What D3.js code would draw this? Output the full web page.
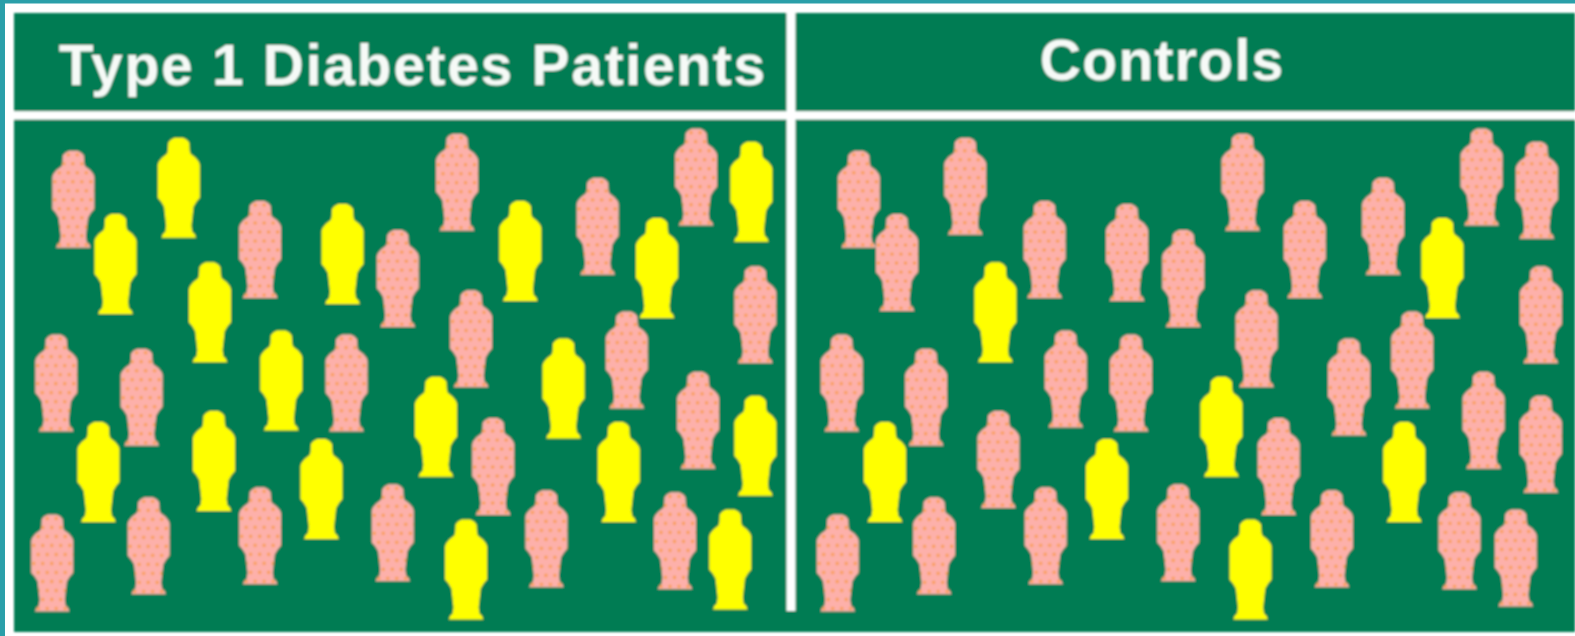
<!DOCTYPE html>
<html>
<head>
<meta charset="utf-8">
<script src="https://cdn.jsdelivr.net/npm/d3@7"></script>
<style>
  html, body { margin: 0; padding: 0; background: #fff; overflow: hidden; }
  svg { display: block; }
  text { font-family: "Liberation Sans", Arial, sans-serif; font-weight: bold; fill: #f6faf7; }
</style>
</head>
<body>
<svg id="chart"></svg>
<script>
const COLORS = {
  teal: '#2a9fa9',
  rule: '#ffffff',
  bg: '#047b52',
  case: '#ffff00',
  pink: '#fdb0aa',
  dot: '#f8993c',
}
const GROUPS = ['Type 1 Diabetes Patients', 'Controls']

// in the units of the shrunk reference, per panel
const PATIENT_X = [73, 178, 115, 259, 341, 396, 455, 518, 595, 654, 693, 748, 752, 209, 56, 141, 280, 345, 469, 561, 624, 434, 98, 213, 320, 491, 616, 695, 752, 52, 148, 259, 391, 464, 544, 672, 727]
const CONTROL_X = [73, 179, 111, 258, 340, 396, 455, 517, 595, 654, 693, 748, 752, 209, 56, 140, 279, 344, 469, 561, 624, 434, 99, 212, 320, 491, 616, 695, 752, 52, 148, 259, 391, 463, 544, 671, 727]
const PERSON_TOP = [150, 137, 213, 200, 203, 229, 133, 200, 177, 217, 128, 141, 265, 261, 333, 347, 329, 333, 289, 337, 310, 375, 420, 409, 437, 416, 420, 370, 394, 512, 495, 485, 482, 517, 488, 490, 507]
const PATIENT_CASE = [0, 1, 1, 0, 1, 0, 0, 1, 0, 1, 0, 1, 0, 1, 0, 0, 1, 0, 0, 1, 0, 1, 1, 1, 1, 0, 1, 0, 1, 0, 0, 0, 0, 1, 0, 0, 1]
const CONTROL_CASE = [0, 0, 0, 0, 0, 0, 0, 0, 0, 1, 0, 0, 0, 1, 0, 0, 0, 0, 0, 0, 0, 1, 1, 0, 1, 0, 1, 0, 0, 0, 0, 0, 0, 1, 0, 0, 0]

// silhouette outline: height share, half width share
const BODY_Y = [0, 0.02, 0.05, 0.13, 0.16, 0.2, 0.24, 0.27, 0.6, 0.64, 0.69, 0.88, 0.94, 0.965, 1]
const BODY_W = [0.2, 0.38, 0.5, 0.52, 0.56, 0.8, 0.95, 1, 1, 0.84, 0.7, 0.6, 0.64, 0.76, 0.82]

const WIDTH = 1575
const HEIGHT = 636
const PINK_H = 97
const CASE_H = 100
const PERSON_HALF = 21

const svg = d3.select('#chart').attr('width', WIDTH).attr('height', HEIGHT)
const defs = svg.append('defs')

defs.append('filter').attr('id', 'soft')
  .attr('x', '-5%').attr('y', '-5%').attr('width', '110%').attr('height', '110%')
  .append('feGaussianBlur').attr('stdDeviation', 1)

const pattern = defs.append('pattern').attr('id', 'speckle')
  .attr('patternUnits', 'userSpaceOnUse')
  .attr('width', 18).attr('height', 18)
pattern.append('rect').attr('width', 18).attr('height', 18).attr('fill', COLORS.pink)
pattern.selectAll('circle').data([[4, 4], [13, 4], [8.5, 13], [17.5, 13], [-0.5, 13]]).join('circle')
  .attr('cx', d => d[0]).attr('cy', d => d[1]).attr('r', 1.6)
  .attr('fill', COLORS.dot)

// picture units to page pixels
const x = d3.scaleLinear().domain([0, 1568]).range([0, WIDTH])
const y = d3.scaleLinear().domain([0, 633]).range([0, HEIGHT])
const panelLeft = d3.scaleOrdinal().domain(GROUPS).range([0, 782])

const shape = d3.line()
const outline = h => {
  const right = BODY_Y.map((v, i) => [BODY_W[i] * PERSON_HALF, v * h])
  const left = right.map(p => [-p[0], p[1]]).reverse()
  return shape(right.concat(left)) + 'Z'
}

svg.append('rect').attr('width', WIDTH).attr('height', HEIGHT).attr('fill', COLORS.rule)
svg.append('rect').attr('width', 5).attr('height', HEIGHT).attr('fill', COLORS.teal)
svg.append('rect').attr('width', WIDTH).attr('height', 3.5).attr('fill', COLORS.teal)

const plot = svg.append('g').attr('filter', 'url(#soft)')

plot.append('rect')
  .attr('x', 14).attr('y', 13)
  .attr('width', WIDTH - 14).attr('height', 619)
  .attr('fill', COLORS.bg)
plot.append('rect')
  .attr('x', 14).attr('y', 111.2)
  .attr('width', WIDTH - 14).attr('height', 8.4)
  .attr('fill', COLORS.rule)
plot.append('rect')
  .attr('x', 786.5).attr('y', 13)
  .attr('width', 9).attr('height', 598)
  .attr('fill', COLORS.rule)

plot.selectAll('text.head')
  .data(GROUPS)
  .join('text')
  .attr('class', 'head')
  .attr('x', (d, i) => x(i === 0 ? 411 : 1157))
  .attr('y', (d, i) => y(i === 0 ? 85 : 80))
  .attr('text-anchor', 'middle')
  .attr('font-size', 57)
  .attr('letter-spacing', (d, i) => (i === 0 ? 1.7 : 1.3))
  .text(d => d)

const people = GROUPS.flatMap((group, g) =>
  PERSON_TOP.map((top, i) => ({
    group,
    px: g === 0 ? PATIENT_X[i] : CONTROL_X[i],
    top,
    isCase: (g === 0 ? PATIENT_CASE : CONTROL_CASE)[i] === 1,
  }))
)

plot.selectAll('path.person')
  .data(people)
  .join('path')
  .attr('class', 'person')
  .attr('d', d => outline(d.isCase ? CASE_H : PINK_H))
  .attr('transform', d => `translate(${x(d.px + panelLeft(d.group))},${y(d.top)})`)
  .attr('fill', d => (d.isCase ? COLORS.case : 'url(#speckle)'))
</script>
</body>
</html>
